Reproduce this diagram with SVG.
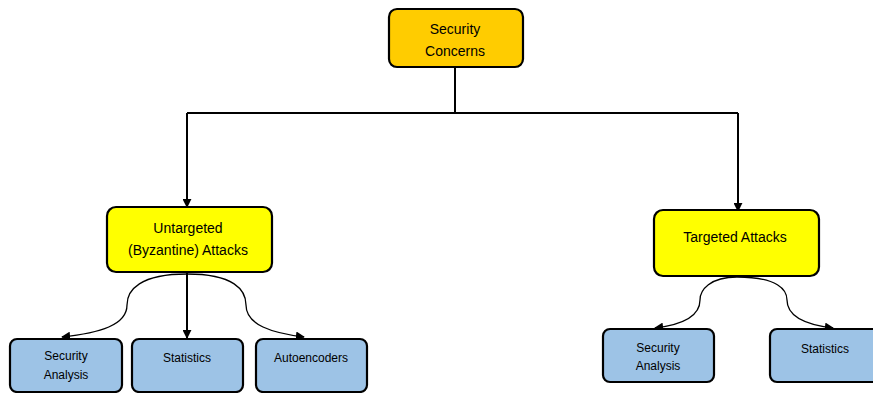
<svg xmlns="http://www.w3.org/2000/svg" width="873" height="393" viewBox="0 0 873 393">
<defs>
<style>
.box{stroke:#000;stroke-width:2.2}
.top{fill:#FFCC00}
.mid{fill:#FFFF00}
.leaf{fill:#9DC3E6}
.lbl{font-family:"Liberation Sans",Arial,sans-serif;fill:#000;text-anchor:middle}
.big{font-size:14px}
.small{font-size:12px}
.conn{fill:none;stroke:#000;stroke-width:1.3}
.thick{stroke-width:2}
</style>
<marker id="ah" viewBox="0 0 10 10" refX="9" refY="5" markerWidth="9" markerHeight="9" markerUnits="userSpaceOnUse" orient="auto">
<path d="M0,0 L10,5 L0,10 z" fill="#000"/>
</marker>
</defs>
<rect width="873" height="393" fill="#fff"/>
<g id="connectors">
<path class="conn thick" d="M455,67 V113 M187,113 H738"/>
<path class="conn thick" d="M187,113 V207" marker-end="url(#ah)"/>
<path class="conn thick" d="M738,113 V211" marker-end="url(#ah)"/>
<path class="conn thick" d="M187,273 V338" marker-end="url(#ah)"/>
<path class="conn" d="M187,274 C140,274 127,290 127,305 C127,325 100,333 62,337" marker-end="url(#ah)"/>
<path class="conn" d="M187,274 C234,274 246,290 246,305 C246,325 272,333 304,337" marker-end="url(#ah)"/>
<path class="conn" d="M737,277 C710,277 700,290 700,300 C700,318 680,325 655,328" marker-end="url(#ah)"/>
<path class="conn" d="M737,277 C778,277 787,290 787,300 C787,318 808,325 833,328" marker-end="url(#ah)"/>
</g>
<g id="security-concerns">
<rect class="box top" x="389" y="9" width="134" height="58" rx="8"/>
<text class="lbl big" x="455" y="34">Security</text>
<text class="lbl big" x="455" y="56">Concerns</text>
</g>
<g id="untargeted">
<rect class="box mid" x="107" y="207" width="165" height="65" rx="9"/>
<text class="lbl big" x="188" y="233">Untargeted</text>
<text class="lbl big" x="188" y="255">(Byzantine) Attacks</text>
</g>
<g id="targeted">
<rect class="box mid" x="654" y="210" width="165" height="66" rx="9"/>
<text class="lbl big" x="735" y="242">Targeted Attacks</text>
</g>
<g id="u-security-analysis">
<rect class="box leaf" x="10" y="339" width="112" height="53" rx="7"/>
<text class="lbl small" x="66" y="360">Security</text>
<text class="lbl small" x="66" y="379">Analysis</text>
</g>
<g id="u-statistics">
<rect class="box leaf" x="132" y="339" width="111" height="53" rx="7"/>
<text class="lbl small" x="187" y="362">Statistics</text>
</g>
<g id="u-autoencoders">
<rect class="box leaf" x="256" y="339" width="111" height="53" rx="7"/>
<text class="lbl small" x="311" y="362">Autoencoders</text>
</g>
<g id="t-security-analysis">
<rect class="box leaf" x="603" y="329" width="111" height="53" rx="7"/>
<text class="lbl small" x="658" y="352">Security</text>
<text class="lbl small" x="658" y="370">Analysis</text>
</g>
<g id="t-statistics">
<rect class="box leaf" x="770" y="329" width="111" height="53" rx="7"/>
<text class="lbl small" x="825" y="353">Statistics</text>
</g>
</svg>
